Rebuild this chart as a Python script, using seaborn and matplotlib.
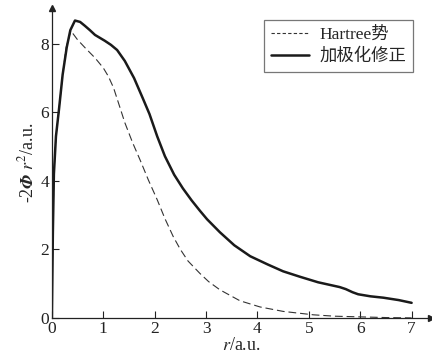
import matplotlib
matplotlib.use("Agg")
import matplotlib.pyplot as plt
import seaborn as sns
import pandas as pd

# Data
r_hartree = [0.0, 0.02, 0.04, 0.08, 0.14, 0.21, 0.28, 0.37, 0.5, 0.65, 0.84, 1.0, 1.1, 1.2,
             1.33, 1.42, 1.57, 1.72, 1.88, 2.05, 2.2, 2.36, 2.5, 2.65, 2.88, 3.05, 3.27,
             3.66, 4.05, 4.5, 5.09, 5.5, 6.0, 6.5, 7.0]
v_hartree = [0.0, 2.5, 4.2, 5.3, 6.1, 7.1, 7.9, 8.38, 8.12, 7.88, 7.59, 7.3, 7.05, 6.72,
             6.12, 5.7, 5.12, 4.6, 4.02, 3.45, 2.9, 2.38, 2.0, 1.66, 1.3, 1.06, 0.82,
             0.5, 0.32, 0.19, 0.09, 0.05, 0.03, 0.01, 0.0]

r_polar = [0.0, 0.02, 0.04, 0.08, 0.14, 0.21, 0.29, 0.36, 0.45, 0.55, 0.64, 0.74, 0.84,
           1.03, 1.15, 1.27, 1.42, 1.6, 1.77, 1.9, 2.05, 2.2, 2.38, 2.55, 2.72, 2.88,
           3.02, 3.27, 3.55, 3.86, 4.2, 4.5, 4.83, 5.18, 5.45, 5.6, 5.72, 5.85, 5.96,
           6.2, 6.45, 6.75, 7.0]
v_polar = [0.0, 2.5, 4.2, 5.3, 6.1, 7.1, 7.9, 8.4, 8.68, 8.64, 8.53, 8.4, 8.26,
           8.09, 7.97, 7.82, 7.5, 7.0, 6.41, 5.95, 5.3, 4.72, 4.18, 3.78, 3.43, 3.13,
           2.88, 2.5, 2.12, 1.8, 1.56, 1.36, 1.2, 1.04, 0.95, 0.9, 0.84, 0.75, 0.69,
           0.63, 0.59, 0.52, 0.44]

label_hartree = "Hartree势"
label_polar = "加极化修正"
x_ticks = [0, 1, 2, 3, 4, 5, 6, 7]
y_ticks = [0, 2, 4, 6, 8]

sns.set_style("ticks")
plt.rcParams["font.family"] = ["Liberation Serif", "Noto Sans CJK SC"]
plt.rcParams["mathtext.fontset"] = "stix"

fig = plt.figure(figsize=(4.32, 3.58), dpi=100)
ax = fig.add_axes([0.12, 0.112, 0.878, 0.866])

df_h = pd.DataFrame({"r": r_hartree, "v": v_hartree})
df_p = pd.DataFrame({"r": r_polar, "v": v_polar})
sns.lineplot(data=df_h, x="r", y="v", ax=ax, color="#333333", linewidth=0.8,
             sort=False, label=label_hartree)
ax.lines[-1].set_dashes([7, 3.5])
sns.lineplot(data=df_p, x="r", y="v", ax=ax, color="#1a1a1a", linewidth=1.8,
             sort=False, label=label_polar)
for ln in ax.lines:
    ln.set_solid_joinstyle("round")

ax.set_xlim(0, 7.38)
ax.set_ylim(0, 9.05)
ax.set_xticks(x_ticks)
ax.set_yticks(y_ticks)
ax.tick_params(direction="in", length=5, width=0.8, labelsize=12.5, colors="#222222", pad=2)
for s in ["top", "right"]:
    ax.spines[s].set_visible(False)
for s in ["left", "bottom"]:
    ax.spines[s].set_linewidth(0.9)
    ax.spines[s].set_color("#222222")

# arrow heads on axes
ax.plot(1, 0, ">", color="#222222", markersize=5, transform=ax.transAxes, clip_on=False)
ax.plot(0, 1, "^", color="#222222", markersize=5, transform=ax.transAxes, clip_on=False)

ax.set_xlabel("$r$/a.u.", fontsize=13, labelpad=0)
ax.set_ylabel(r"-2$\mathbfit{\Phi}$ $r^2$/a.u.", fontsize=13, labelpad=2)

leg = ax.legend(loc="upper right", bbox_to_anchor=(0.975, 0.99), fontsize=12.5,
                frameon=True, fancybox=False, edgecolor="#555555", handlelength=2.2,
                borderpad=0.4, labelspacing=0.3, handletextpad=0.6)
leg.get_frame().set_linewidth(0.9)
leg.get_lines()[0].set_dashes([3, 2])

fig.savefig("out.png", dpi=100)
